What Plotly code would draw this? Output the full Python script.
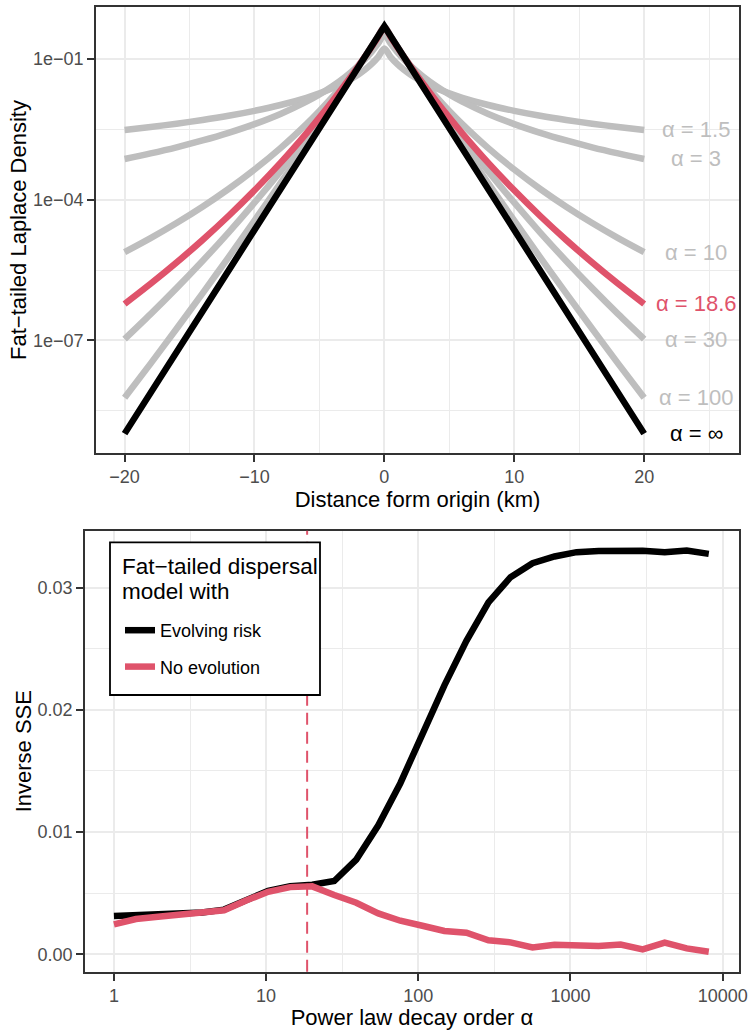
import plotly.graph_objects as go

# ---------------- Top panel data ----------------
# distance from origin (km), right half; the density is symmetric about 0
dist_half = [0, 0.5, 1, 1.5, 2, 3, 4, 5, 6, 8, 10, 12, 14, 16, 18, 20]
# log10 density for each alpha at the distances above
alpha_labels = ["1.5", "3", "10", "18.6", "30", "100"]
logdens_a1_5 = [-0.778, -0.966, -1.111, -1.230, -1.330, -1.494, -1.625, -1.733, -1.827, -1.981, -2.105, -2.210, -2.300, -2.379, -2.449, -2.513]
logdens_a3 = [-0.477, -0.678, -0.852, -1.005, -1.143, -1.380, -1.581, -1.755, -1.909, -2.170, -2.388, -2.574, -2.737, -2.882, -3.012, -3.131]
logdens_a10 = [-0.347, -0.559, -0.761, -0.954, -1.139, -1.486, -1.808, -2.108, -2.388, -2.900, -3.357, -3.771, -4.149, -4.496, -4.818, -5.118]
logdens_a18_6 = [-0.325, -0.539, -0.748, -0.952, -1.150, -1.533, -1.899, -2.248, -2.584, -3.215, -3.800, -4.347, -4.858, -5.339, -5.793, -6.223]
logdens_a30 = [-0.316, -0.531, -0.743, -0.952, -1.157, -1.558, -1.947, -2.324, -2.691, -3.396, -4.064, -4.700, -5.306, -5.885, -6.439, -6.971]
logdens_a100 = [-0.305, -0.522, -0.738, -0.952, -1.165, -1.589, -2.009, -2.424, -2.836, -3.648, -4.445, -5.227, -5.996, -6.751, -7.494, -8.224]
# alpha = infinity (plain Laplace): straight in log space
dist_inf_half = [0, 20]
logdens_inf = [-0.301, -8.987]

# ---------------- Bottom panel data ----------------
alpha_grid = [1.0, 1.3956, 1.9477, 2.7183, 3.7937, 5.2945, 7.3891, 10.312, 14.392, 20.086,
              28.032, 39.121, 54.598, 76.197, 106.34, 148.41, 207.13, 289.07, 403.43, 563.03,
              785.77, 1096.6, 1530.5, 2136.0, 2981.0, 4160.3, 5806.1, 8103.1]
inv_sse_evolving = [0.00313, 0.00318, 0.00328, 0.00336, 0.00343, 0.00366, 0.00450, 0.00520, 0.00558, 0.00570,
                    0.00600, 0.00775, 0.01055, 0.01400, 0.01800, 0.02200, 0.02565, 0.02880, 0.03085, 0.03200,
                    0.03255, 0.03290, 0.03300, 0.03305, 0.03302, 0.03290, 0.03303, 0.03276]
inv_sse_noevo = [0.00245, 0.00289, 0.00307, 0.00325, 0.00340, 0.00360, 0.00440, 0.00512, 0.00550, 0.00556,
                 0.00485, 0.00422, 0.00335, 0.00275, 0.00234, 0.00191, 0.00177, 0.00115, 0.00098, 0.00057,
                 0.00078, 0.00068, 0.00068, 0.00080, 0.00041, 0.00095, 0.00049, 0.00021]
best_alpha = 18.6
legend_title_lines = ["Fat−tailed dispersal", "model with"]

GRAY = "#BEBEBE"
RED = "#DF536B"
FONT = "Liberation Sans"
LW = 6.5
W, H = 749, 1030


def mirror(xh, vh):
    xs = [-x for x in reversed(xh[1:])] + list(xh)
    vs = list(reversed(vh[1:])) + list(vh)
    return xs, [10 ** v for v in vs]


fig = go.Figure()

series = [logdens_a1_5, logdens_a3, logdens_a10, logdens_a18_6, logdens_a30, logdens_a100]
# grey curves first
for lab, vals in zip(alpha_labels, series):
    if lab == "18.6":
        continue
    xs, ys = mirror(dist_half, vals)
    fig.add_trace(go.Scatter(x=xs, y=ys, mode="lines",
                             line=dict(color=GRAY, width=LW, shape="spline", smoothing=0.8),
                             xaxis="x", yaxis="y", showlegend=False, name="α = " + lab))
xs, ys = mirror(dist_half, logdens_a18_6)
fig.add_trace(go.Scatter(x=xs, y=ys, mode="lines",
                         line=dict(color=RED, width=LW, shape="spline", smoothing=0.8),
                         xaxis="x", yaxis="y", showlegend=False, name="α = 18.6"))
xs, ys = mirror(dist_inf_half, logdens_inf)
fig.add_trace(go.Scatter(x=xs, y=ys, mode="lines", line=dict(color="black", width=LW),
                         xaxis="x", yaxis="y", showlegend=False, name="α = ∞"))

# labels at the right end of each curve
label_colors = [GRAY, GRAY, GRAY, RED, GRAY, GRAY]
for lab, vals, col in zip(alpha_labels, series, label_colors):
    fig.add_annotation(x=24, y=vals[-1], xref="x", yref="y", text="α = " + lab, showarrow=False,
                       xanchor="center", yanchor="middle", font=dict(family=FONT, size=22, color=col))
fig.add_annotation(x=24, y=logdens_inf[-1], xref="x", yref="y", text="α = ∞", showarrow=False,
                   xanchor="center", yanchor="middle", font=dict(family=FONT, size=22, color="black"))

# bottom panel
fig.add_trace(go.Scatter(x=alpha_grid, y=inv_sse_evolving, mode="lines", line=dict(color="black", width=LW),
                         xaxis="x2", yaxis="y2", name="Evolving risk", legendgroup="a"))
fig.add_trace(go.Scatter(x=alpha_grid, y=inv_sse_noevo, mode="lines", line=dict(color=RED, width=LW),
                         xaxis="x2", yaxis="y2", name="No evolution", legendgroup="b"))

fig.add_shape(type="line", xref="x2", yref="y2 domain", x0=best_alpha, x1=best_alpha, y0=0, y1=1,
              line=dict(color=RED, width=2, dash="12px,7px"), layer="above")

# legend frame and title (legend entries themselves are the real plotly legend)
fig.add_shape(type="rect", xref="paper", yref="paper",
              x0=110 / W, x1=320 / W, y0=1 - 695 / H, y1=1 - 542.3 / H,
              line=dict(color="black", width=1.8), fillcolor="white", layer="above")
for i, line_txt in enumerate(legend_title_lines):
    fig.add_annotation(x=120 / W, y=1 - (566 + 25 * i) / H, xref="paper", yref="paper",
                       text=line_txt, showarrow=False, xanchor="left", yanchor="middle",
                       font=dict(family=FONT, size=22.5, color="black"))

axis_common = dict(
    automargin=False,
    showline=True, mirror=True, linecolor="#333333", linewidth=1.8,
    ticks="outside", ticklen=7, tickwidth=1.8, tickcolor="#333333",
    tickfont=dict(family=FONT, size=18, color="#4D4D4D"),
    showgrid=True, gridcolor="#EBEBEB", gridwidth=2, zeroline=False,
)
minor_common = dict(showgrid=True, gridcolor="#EBEBEB", gridwidth=1.1, ticks="")
title_font = dict(family=FONT, size=22, color="black")

fig.update_layout(
    width=W, height=H,
    margin=dict(l=0, r=0, t=0, b=0),
    paper_bgcolor="white", plot_bgcolor="white",
    font=dict(family=FONT, color="black"),
    xaxis=dict(domain=[0.1282, 0.9866], anchor="y", range=[-22.2, 27.3],
               tickvals=[-20, -10, 0, 10, 20], ticktext=["−20", "−10", "0", "10", "20"],
               minor=dict(tickvals=[-15, -5, 5, 15, 25], **minor_common),
               title=dict(text="Distance form origin (km)", font=title_font, standoff=0),
               **axis_common),
    yaxis=dict(domain=[0.5602, 0.9932], anchor="x", type="log", range=[-9.40, 0.109],
               tickvals=[1e-1, 1e-4, 1e-7], ticktext=["1e−01", "1e−04", "1e−07"],
               minor=dict(tickvals=[10 ** -2.5, 10 ** -5.5, 10 ** -8.5], **minor_common),
               title=dict(text="Fat−tailed Laplace Density", font=title_font, standoff=0),
               **axis_common),
    xaxis2=dict(domain=[0.1135, 0.9866], anchor="y2", type="log", range=[-0.19, 4.107],
                tickvals=[1, 10, 100, 1000, 10000], ticktext=["1", "10", "100", "1000", "10000"],
                minor=dict(tickvals=[10 ** 0.5, 10 ** 1.5, 10 ** 2.5, 10 ** 3.5], **minor_common),
                title=dict(text="Power law decay order α", font=title_font, standoff=0),
                **axis_common),
    yaxis2=dict(domain=[0.0566, 0.4848], anchor="x2", range=[-0.00142, 0.03466],
                tickvals=[0, 0.01, 0.02, 0.03], ticktext=["0.00", "0.01", "0.02", "0.03"],
                minor=dict(tickvals=[0.005, 0.015, 0.025], **minor_common),
                title=dict(text="Inverse SSE", font=title_font, standoff=0),
                **axis_common),
    legend=dict(x=120 / W, y=1 - 612 / H, xanchor="left", yanchor="top",
                bgcolor="rgba(0,0,0,0)", borderwidth=0,
                font=dict(family=FONT, size=18, color="black"),
                tracegroupgap=10, itemwidth=30),
    showlegend=True,
)

fig.write_html("out.html")
